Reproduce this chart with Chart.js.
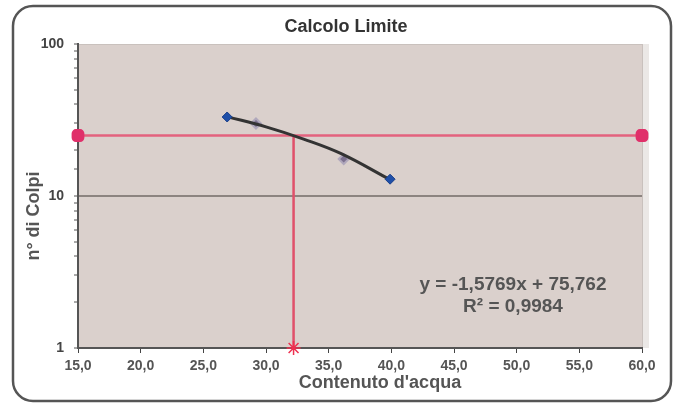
<!DOCTYPE html>
<html>
<head>
<meta charset="utf-8">
<script src="https://cdn.jsdelivr.net/npm/chart.js@4/dist/chart.umd.min.js"></script>
<style>
  html, body { margin: 0; padding: 0; background: #fff; }
  canvas { display: block; }
</style>
</head>
<body>
<canvas id="limitChart" width="677" height="407"></canvas>
<script>
// dati
const trendX = [26.9, 30.0, 33.0, 36.0, 39.9];
const trendY = [33.3, 28.5, 23.7, 19.0, 12.8];
const measuredX = [26.9, 39.9];
const measuredY = [33.1, 12.9];
const fadedX = [29.2, 36.2];
const fadedY = [30.0, 17.5];
const limitLineX = [15, 60];
const limitLineY = [25, 25];
const limitDropX = [32.2, 32.2];
const limitDropY = [25, 1];
const yLabels = [1, 10, 100];
const chartTitle = 'Calcolo Limite';
const xTitle = "Contenuto d'acqua";
const yTitle = 'n\u00B0 di Colpi';
const equationLines = ['y = -1,5769x + 75,762', 'R\u00B2 = 0,9984'];

const FONT = '"Liberation Sans", Arial, sans-serif';

function toPoints(xs, ys) {
    return xs.map((x, i) => ({ x: x, y: ys[i] }));
}

const frameAndTexts = {
    id: 'frameAndTexts',
    beforeDraw(chart) {
        const { ctx, chartArea } = chart;
        ctx.save();
        ctx.fillStyle = '#fff';
        ctx.fillRect(0, 0, chart.width, chart.height);
        ctx.strokeStyle = '#555';
        ctx.lineWidth = 2.5;
        ctx.beginPath();
        ctx.roundRect(13, 6, 658, 395, 20);
        ctx.stroke();
        ctx.fillStyle = '#dad0cc';
        ctx.fillRect(chartArea.left, chartArea.top, chartArea.right - chartArea.left, chartArea.bottom - chartArea.top);
        ctx.strokeStyle = '#c9c1bd';
        ctx.lineWidth = 1;
        ctx.strokeRect(chartArea.left + 0.5, chartArea.top + 0.5, chartArea.right - chartArea.left, chartArea.bottom - chartArea.top);
        ctx.fillStyle = '#ebe8e6';
        ctx.fillRect(chartArea.right + 1, chartArea.top, 6, chartArea.bottom - chartArea.top);
        ctx.restore();
    },
    afterDraw(chart) {
        const { ctx, chartArea } = chart;
        ctx.save();
        ctx.textAlign = 'center';
        ctx.textBaseline = 'middle';

        ctx.fillStyle = '#333';
        ctx.font = 'bold 18px ' + FONT;
        ctx.fillText(chartTitle, 346, 27);

        ctx.fillStyle = '#555';
        ctx.font = 'bold 18px ' + FONT;
        ctx.fillText(xTitle, 380, 383);

        ctx.save();
        ctx.translate(34, 216);
        ctx.rotate(-Math.PI / 2);
        ctx.fillText(yTitle, 0, 0);
        ctx.restore();

        ctx.font = 'bold 19px ' + FONT;
        ctx.fillText(equationLines[0], chartArea.left + 435, chartArea.top + 241);
        ctx.fillText(equationLines[1], chartArea.left + 435, chartArea.top + 263);
        ctx.restore();
    }
};

new Chart(document.getElementById('limitChart').getContext('2d'), {
    type: 'scatter',
    data: {
        datasets: [
            {
                label: 'limite',
                data: toPoints(limitLineX, limitLineY),
                showLine: true,
                borderColor: '#e3627e',
                borderWidth: 2.5,
                pointStyle: 'rectRounded',
                pointRadius: 6,
                pointBackgroundColor: '#e0306a',
                pointBorderColor: '#e0306a',
                clip: false,
                order: 3
            },
            {
                label: 'verticale',
                data: toPoints(limitDropX, limitDropY),
                showLine: true,
                borderColor: '#e0506a',
                borderWidth: 2.5,
                pointStyle: 'star',
                pointRadius: [0, 7],
                pointBorderColor: '#ee3050',
                pointBorderWidth: 1.5,
                clip: false,
                order: 3
            },
            {
                label: 'tendenza',
                data: toPoints(trendX, trendY),
                showLine: true,
                borderColor: '#333',
                borderWidth: 3,
                tension: 0.4,
                pointRadius: 0,
                order: 1
            },
            {
                label: 'misure',
                data: toPoints(measuredX, measuredY),
                pointStyle: 'rectRot',
                pointRadius: 5,
                pointBackgroundColor: '#1f4fa8',
                pointBorderColor: '#1a3f8a',
                order: 0
            },
            {
                label: 'misure sbiadite',
                data: toPoints(fadedX, fadedY),
                pointStyle: 'rectRot',
                pointRadius: 5,
                pointBackgroundColor: '#7d7290',
                pointBorderColor: '#b0a8bc',
                pointBorderWidth: 2,
                order: 2
            }
        ]
    },
    options: {
        responsive: false,
        animation: false,
        layout: { padding: { left: 18, right: 35, top: 44, bottom: 0 } },
        plugins: {
            legend: { display: false },
            tooltip: { enabled: false },
            title: { display: false }
        },
        scales: {
            x: {
                type: 'linear',
                min: 15,
                max: 60,
                ticks: {
                    stepSize: 5,
                    color: '#555',
                    font: { family: FONT, size: 14, weight: 'bold' },
                    padding: 5,
                    maxRotation: 0,
                    callback: v => v.toFixed(1).replace('.', ',')
                },
                grid: { drawOnChartArea: false, drawTicks: true, tickLength: 5, color: '#444' },
                border: { display: true, color: '#555', width: 2 },
                afterFit: scale => { scale.height = 59; }
            },
            y: {
                type: 'logarithmic',
                min: 1,
                max: 100,
                ticks: {
                    color: '#444',
                    font: { family: FONT, size: 14, weight: 'bold' },
                    padding: 10,
                    autoSkip: false,
                    callback: v => yLabels.includes(v) ? String(v) : ''
                },
                grid: {
                    drawOnChartArea: true,
                    drawTicks: true,
                    tickLength: 4,
                    color: ctx => (ctx.tick && ctx.tick.value === 10) ? '#8c8480' : 'rgba(0,0,0,0)',
                    lineWidth: 2,
                    tickColor: '#555',
                    tickWidth: 1
                },
                border: { display: true, color: '#555', width: 2 },
                afterFit: scale => { scale.width = 60; }
            }
        }
    },
    plugins: [frameAndTexts]
});
</script>
</body>
</html>
